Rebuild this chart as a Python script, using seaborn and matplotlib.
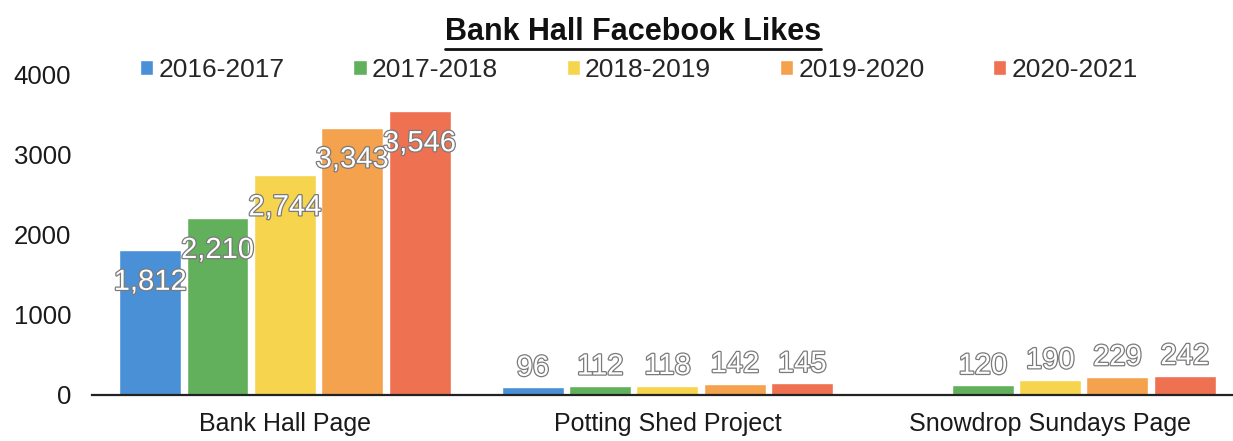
import matplotlib
matplotlib.use("Agg")
import matplotlib.pyplot as plt
import matplotlib.patheffects as pe
from matplotlib.lines import Line2D
import seaborn as sns
import pandas as pd
import numpy as np

# Data
pages = ["Bank Hall Page", "Potting Shed Project", "Snowdrop Sundays Page"]
years = ["2016-2017", "2017-2018", "2018-2019", "2019-2020", "2020-2021"]
likes_2016 = [1812, 96, np.nan]
likes_2017 = [2210, 112, 120]
likes_2018 = [2744, 118, 190]
likes_2019 = [3343, 142, 229]
likes_2020 = [3546, 145, 242]
colors = ["#4A90D6", "#62B05C", "#F6D44E", "#F4A24E", "#EE7152"]

series = [likes_2016, likes_2017, likes_2018, likes_2019, likes_2020]
df = pd.DataFrame(
    [(p, y, v) for y, vals in zip(years, series) for p, v in zip(pages, vals)],
    columns=["page", "year", "likes"],
)

sns.set_style("white")
plt.rcParams["font.family"] = ["Liberation Sans", "DejaVu Sans"]

fig = plt.figure(figsize=(12.33, 4.41), dpi=100)
ax = fig.add_axes([92 / 1233, 1 - 395 / 441, 1 - 92 / 1233, (395 - 75) / 441])

sns.barplot(data=df, x="page", y="likes", hue="year", hue_order=years,
            order=pages, palette=colors, width=0.88, gap=0.08,
            saturation=1, errorbar=None, ax=ax, legend=True)

ax.set_ylim(0, 4000)
ax.set_xlim(-0.504, 2.478)
ax.set_yticks([0, 1000, 2000, 3000, 4000])
ax.set_xlabel("")
ax.set_ylabel("")
ax.tick_params(axis="y", length=0, pad=15, labelsize=18.5, labelcolor="#1a1a1a")
ax.tick_params(axis="x", length=0, pad=12, labelsize=18, labelcolor="#1a1a1a")
for s in ["left", "right", "top"]:
    ax.spines[s].set_visible(False)
ax.spines["bottom"].set_color("#222222")
ax.spines["bottom"].set_linewidth(1.6)

# value labels: white text with a grey outline
outline = [pe.withStroke(linewidth=1.8, foreground="#7a7a7a")]
for cont in ax.containers:
    vals = cont.datavalues
    big = ["{:,.0f}".format(v) if v > 1000 else "" for v in vals]
    small = ["{:,.0f}".format(v) if v <= 1000 else "" for v in vals]
    for t in ax.bar_label(cont, labels=big, padding=-33, fontsize=21,
                          color="white"):
        t.set_path_effects(outline)
    for t in ax.bar_label(cont, labels=small, padding=4, fontsize=21,
                          color="white"):
        t.set_path_effects(outline)

# legend across the top
handles, labels = ax.get_legend_handles_labels()
ax.legend_.remove()
fig.legend(handles, labels, loc="center", bbox_to_anchor=(639 / 1233, 1 - 70 / 441),
           ncol=5, frameon=False, fontsize=19, handlelength=0.5, handleheight=0.5,
           handletextpad=0.2, columnspacing=2.6)

# underlined bold title
title = fig.text(633 / 1233, 1 - 32 / 441, "Bank Hall Facebook Likes",
                 ha="center", va="center", fontsize=22, fontweight="bold",
                 color="#111111")
fig.canvas.draw()
bb = title.get_window_extent().transformed(fig.transFigure.inverted())
fig.add_artist(Line2D([bb.x0, bb.x1], [bb.y0 - 0.004, bb.y0 - 0.004],
                      transform=fig.transFigure, color="#111111", linewidth=2))

fig.savefig("out.png", dpi=100)
